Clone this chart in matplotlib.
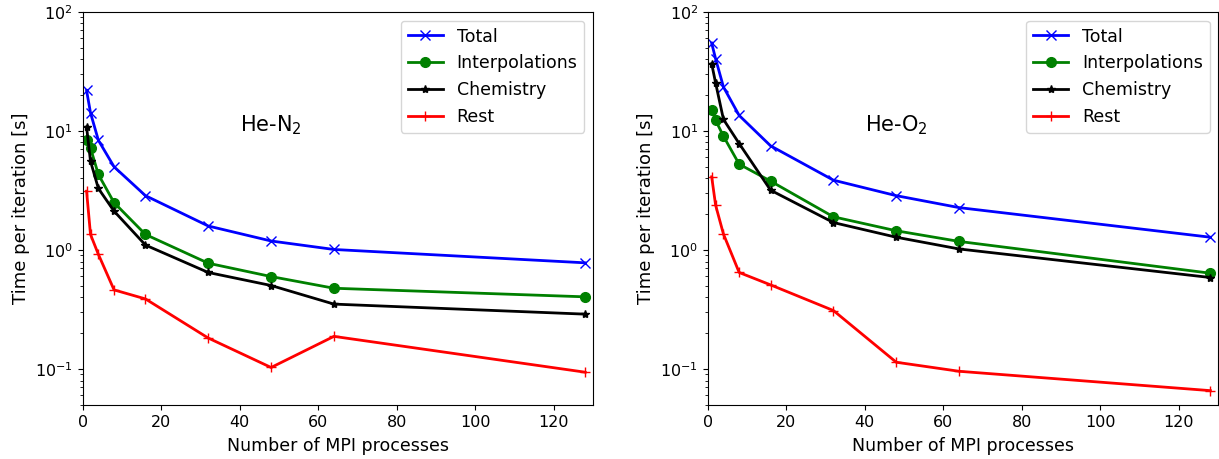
import matplotlib
matplotlib.use("Agg")
import matplotlib.pyplot as plt

procs = [1, 2, 4, 8, 16, 32, 48, 64, 128]

n2_total = [21.9, 14.2, 8.36, 5.0, 2.86, 1.59, 1.19, 1.01, 0.78]
n2_interp = [8.4, 7.2, 4.31, 2.50, 1.35, 0.774, 0.598, 0.477, 0.404]
n2_chem = [10.8, 5.57, 3.29, 2.12, 1.10, 0.647, 0.503, 0.351, 0.289]
n2_rest = [3.12, 1.35, 0.92, 0.462, 0.388, 0.182, 0.103, 0.188, 0.094]

o2_total = [54.7, 40.4, 23.4, 13.5, 7.5, 3.86, 2.86, 2.27, 1.28]
o2_interp = [15.1, 12.3, 9.03, 5.26, 3.79, 1.90, 1.45, 1.18, 0.638]
o2_chem = [36.7, 25.3, 12.5, 7.84, 3.18, 1.70, 1.28, 1.02, 0.587]
o2_rest = [4.12, 2.38, 1.36, 0.647, 0.509, 0.310, 0.114, 0.0957, 0.0658]

series_names = ["Total", "Interpolations", "Chemistry", "Rest"]
panel_labels = [r"He-N$_2$", r"He-O$_2$"]
x_label = "Number of MPI processes"
y_label = "Time per iteration [s]"

colors = ["b", "g", "k", "r"]
markers = ["x", "o", "*", "+"]
msizes = [7, 7, 6, 7]

plt.rcParams["font.size"] = 12
fig = plt.figure(figsize=(12.19, 4.59), dpi=100)
ax1 = fig.add_axes([0.0678, 0.118, 0.4187, 0.856])
ax2 = fig.add_axes([0.5806, 0.118, 0.4188, 0.856])

panels = [
    (ax1, [n2_total, n2_interp, n2_chem, n2_rest], panel_labels[0]),
    (ax2, [o2_total, o2_interp, o2_chem, o2_rest], panel_labels[1]),
]

for ax, data, lab in panels:
    for vals, name, c, m, ms in zip(data, series_names, colors, markers, msizes):
        ax.plot(procs, vals, color=c, marker=m, markersize=ms, linewidth=2, label=name)
    ax.set_yscale("log")
    ax.set_xlim(0, 130)
    ax.set_ylim(0.05, 100)
    ax.set_xlabel(x_label, fontsize=12.5, labelpad=5)
    ax.set_ylabel(y_label, fontsize=13)
    ax.tick_params(labelsize=11.5)
    ax.text(40, 10, lab, fontsize=15)
    ax.legend(loc="upper right", fontsize=12.5)

fig.savefig("out.png", dpi=100)
